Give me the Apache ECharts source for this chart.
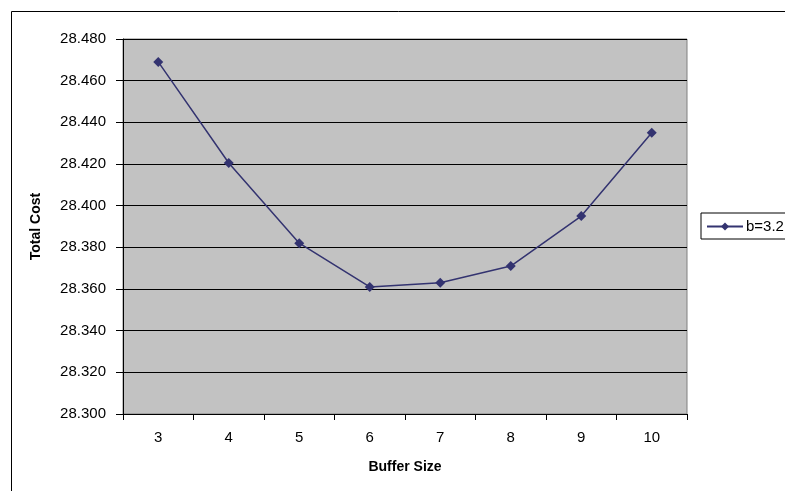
<!DOCTYPE html>
<html>
<head>
<meta charset="utf-8">
<script src="https://cdn.jsdelivr.net/npm/echarts@6/dist/echarts.min.js"></script>
<style>
  html, body { margin: 0; padding: 0; background: #fff; }
  #chart { width: 785px; height: 491px; }
</style>
</head>
<body>
<div id="chart"></div>
<script>
// Buffer sizes on the x axis
const bufferSizes = ['3', '4', '5', '6', '7', '8', '9', '10'];
// Total cost for b = 3.2
const totalCost = [28.469, 28.4205, 28.382, 28.361, 28.363, 28.371, 28.395, 28.435];
const seriesName = 'b=3.2';
// Value axis range
const yMin = 28.30;
const yMax = 28.48;
const yStep = 0.02;

const FONT = '"Liberation Sans", Arial, sans-serif';
const chart = echarts.init(document.getElementById('chart'), null, { renderer: 'canvas' });

chart.setOption({
  animation: false,
  backgroundColor: '#ffffff',
  graphic: [{
    type: 'rect',
    shape: { x: 11.5, y: 11.5, width: 800, height: 500 },
    style: { fill: 'none', stroke: '#000', lineWidth: 1 },
    z: -1
  }],
  grid: {
    left: 123, top: 39, right: 98, bottom: 77,
    show: true,
    backgroundColor: '#c2c2c2',
    borderColor: '#808080',
    borderWidth: 1
  },
  legend: {
    left: 701, top: 213,
    orient: 'vertical',
    data: [seriesName],
    backgroundColor: '#fff',
    borderColor: '#000',
    borderWidth: 1,
    borderRadius: 0,
    padding: [6, 8, 5, 5],
    itemWidth: 36,
    itemHeight: 10,
    itemGap: 0,
    textStyle: { fontFamily: FONT, fontSize: 15, color: '#000', padding: [0, 0, 0, -2] }
  },
  xAxis: {
    type: 'category',
    data: bufferSizes,
    boundaryGap: true,
    name: 'Buffer Size',
    nameLocation: 'middle',
    nameGap: 46,
    nameTextStyle: { fontFamily: FONT, fontSize: 14, fontWeight: 'bold', color: '#000' },
    axisLine: { show: true, lineStyle: { color: '#000', width: 1 } },
    axisTick: { show: true, length: 6, lineStyle: { color: '#000' } },
    axisLabel: { fontFamily: FONT, fontSize: 15, color: '#000', margin: 16 },
    splitLine: { show: false }
  },
  yAxis: {
    type: 'value',
    min: yMin,
    max: yMax,
    interval: yStep,
    name: 'Total Cost',
    nameLocation: 'middle',
    nameGap: 80,
    nameRotate: 90,
    nameTextStyle: { fontFamily: FONT, fontSize: 14, fontWeight: 'bold', color: '#000' },
    axisLine: { show: true, lineStyle: { color: '#000', width: 1 } },
    axisTick: { show: true, length: 7, lineStyle: { color: '#000' } },
    axisLabel: {
      fontFamily: FONT, fontSize: 15, color: '#000', margin: 17,
      formatter: v => v.toFixed(3)
    },
    splitLine: { show: true, lineStyle: { color: '#000', width: 1 } }
  },
  series: [{
    name: seriesName,
    type: 'line',
    data: totalCost,
    symbol: 'diamond',
    symbolSize: 10,
    showAllSymbol: true,
    lineStyle: { color: '#333370', width: 1.5 },
    itemStyle: { color: '#333370' }
  }]
});
</script>
</body>
</html>
